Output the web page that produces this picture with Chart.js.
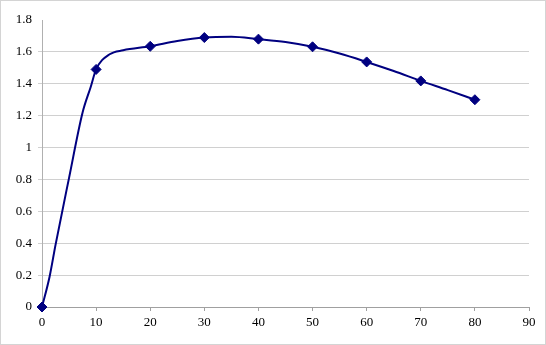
<!DOCTYPE html>
<html>
<head>
<meta charset="utf-8">
<script src="https://cdn.jsdelivr.net/npm/chart.js@4"></script>
<style>
html, body { margin: 0; padding: 0; background: #fff; }
#wrap { width: 544px; height: 343px; border: 1px solid #d4d4d4; }
</style>
</head>
<body>
<div id="wrap"><canvas id="chart" width="544" height="343"></canvas></div>
<script>
// measured points (markers)
var pointX = [0, 10, 20, 30, 40, 50, 60, 70, 80];
var pointY = [0, 1.49, 1.635, 1.69, 1.68, 1.632, 1.537, 1.418, 1.30];

// smoothed curve
var curveX = [0, 1.4, 2.5, 5, 7.5, 9, 10, 12.5, 15, 20, 25, 30, 35, 40, 45, 50, 55, 60, 65, 70, 75, 80];
var curveY = [0, 0.19, 0.39, 0.81, 1.22, 1.38, 1.49, 1.585, 1.61, 1.635, 1.668, 1.69, 1.695, 1.68, 1.662, 1.632, 1.59, 1.537, 1.48, 1.418, 1.36, 1.30];

var navy = '#000080';
var gridGrey = '#d0d0d0';
var tickFont = { family: 'Liberation Serif', size: 13 };

function xy(xs, ys){
  return xs.map(function(x, i){ return { x: x, y: ys[i] }; });
}

var ctx = document.getElementById('chart').getContext('2d');
var chart = new Chart(ctx, {
  type: 'scatter',
  data: {
    datasets: [{
      label: 'curve',
      data: xy(curveX, curveY),
      showLine: true,
      borderColor: navy,
      borderWidth: 2,
      pointRadius: 0,
      cubicInterpolationMode: 'monotone',
      clip: false,
      order: 2
    }, {
      label: 'points',
      data: xy(pointX, pointY),
      showLine: false,
      pointStyle: 'rectRot',
      pointRadius: 5,
      backgroundColor: navy,
      borderColor: navy,
      borderWidth: 1,
      clip: false,
      order: 1
    }]
  },
  options: {
    responsive: false,
    animation: false,
    layout: { padding: { left: 0, right: 16, top: 19, bottom: 0 } },
    plugins: { legend: { display: false }, tooltip: { enabled: false } },
    scales: {
      x: {
        type: 'linear',
        min: 0, max: 90,
        ticks: { stepSize: 10, color: '#000', font: tickFont, padding: 4 },
        grid: { drawOnChartArea: false, color: '#a0a0a0', tickLength: 4 },
        border: { color: '#a0a0a0' },
        afterFit: function(s){ s.height = 37; }
      },
      y: {
        min: 0, max: 1.8,
        ticks: { stepSize: 0.2, color: '#000', font: tickFont, padding: 6,
          callback: function(v){ return Math.round(v * 10) / 10; } },
        grid: {
          color: function(c){ return c.tick && c.tick.value > 1.79 ? 'rgba(0,0,0,0)' : gridGrey; },
          tickLength: 4
        },
        border: { color: '#b0b0b0' },
        afterFit: function(s){ s.width = 41; }
      }
    }
  }
});
</script>
</body>
</html>
